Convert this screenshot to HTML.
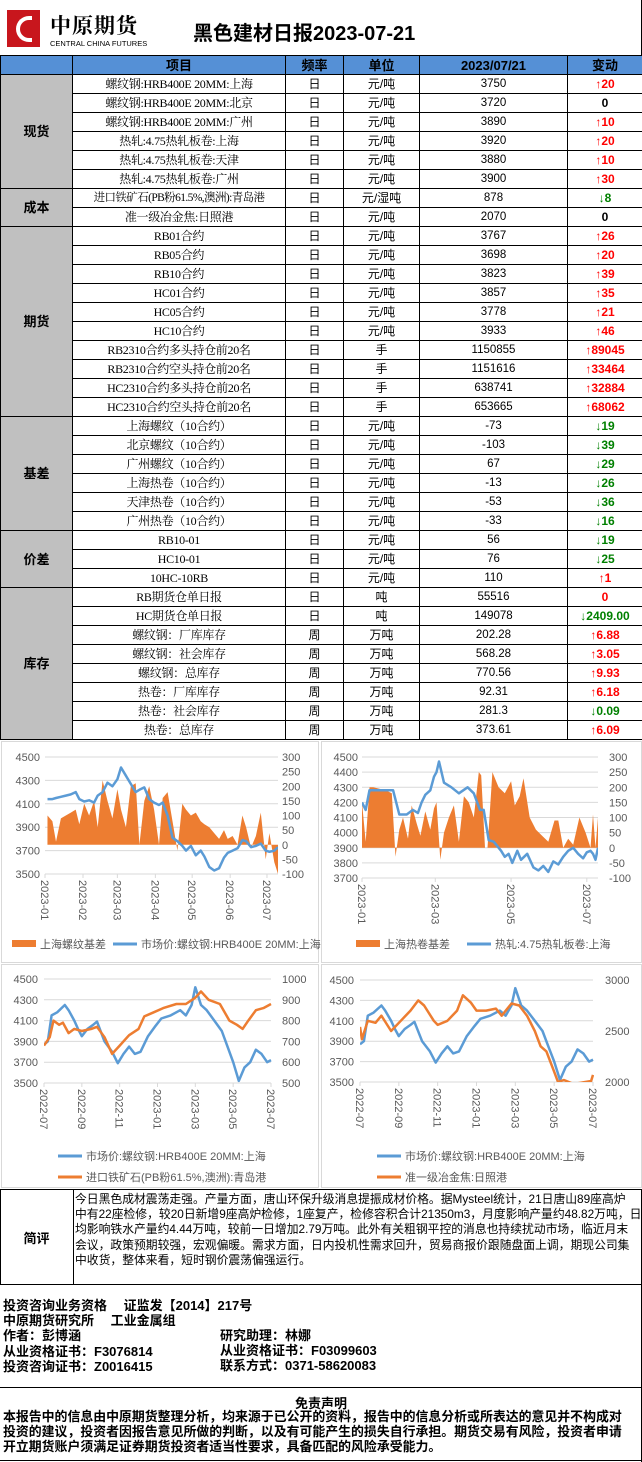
<!DOCTYPE html>
<html><head><meta charset="utf-8">
<style>
*{margin:0;padding:0;box-sizing:border-box}
body{width:642px;height:1462px;background:#fff;position:relative;overflow:hidden;font-family:"Liberation Sans","Noto Sans CJK SC",sans-serif;color:#000}
.abs{position:absolute}
table.t{position:absolute;left:0;top:55px;border-collapse:collapse;table-layout:fixed;width:642px}
.t td{border:1px solid #000;height:19px;padding:0;text-align:center;font-size:12px;line-height:17px;white-space:nowrap;overflow:hidden}
.t .hd td{background:#5590d6;font-weight:bold;font-size:13px}
.t .cat{background:#c0c0c0;font-weight:bold;font-size:13px}
.t .it{font-family:"Liberation Serif","Noto Serif CJK SC",serif;font-size:12px;letter-spacing:-0.3px}
.t .v{font-size:11.5px}
.up{color:#ff0000;font-weight:bold}
.dn{color:#008000;font-weight:bold}
.zr{color:#000;font-weight:bold}
.bold{font-weight:bold}
</style></head><body>
<div class="abs" style="left:7px;top:10px;width:33px;height:37px;background:#c8161d">
  <div class="abs" style="left:9px;top:6px;width:16px;height:26px;border:4px solid #fff;border-right:none;border-radius:16px 0 0 16px"></div>
</div>
<div class="abs bold" style="left:50px;top:10px;font-size:21px;letter-spacing:1px;font-family:'Noto Serif CJK SC',serif">中原期货</div>
<div class="abs" style="left:50px;top:39px;font-size:7.5px">CENTRAL CHINA FUTURES</div>
<div class="abs bold" style="left:193px;top:17px;font-size:20px">黑色建材日报2023-07-21</div>
<div class="abs" style="left:641px;top:0;width:1px;height:55px;background:#000"></div>

<table class="t">
<colgroup><col style="width:72px"><col style="width:213px"><col style="width:58px"><col style="width:76px"><col style="width:148px"><col style="width:75px"></colgroup>
<tr class="hd"><td>&nbsp;</td><td style="border-left:none">项目</td><td>频率</td><td>单位</td><td>2023/07/21</td><td>变动</td></tr>
<tr><td class="cat" rowspan="6">现货</td><td class="it">螺纹钢:HRB400E 20MM:上海</td><td>日</td><td>元/吨</td><td class="v">3750</td><td class="up">↑20</td></tr>
<tr><td class="it">螺纹钢:HRB400E 20MM:北京</td><td>日</td><td>元/吨</td><td class="v">3720</td><td class="zr">0</td></tr>
<tr><td class="it">螺纹钢:HRB400E 20MM:广州</td><td>日</td><td>元/吨</td><td class="v">3890</td><td class="up">↑10</td></tr>
<tr><td class="it">热轧:4.75热轧板卷:上海</td><td>日</td><td>元/吨</td><td class="v">3920</td><td class="up">↑20</td></tr>
<tr><td class="it">热轧:4.75热轧板卷:天津</td><td>日</td><td>元/吨</td><td class="v">3880</td><td class="up">↑10</td></tr>
<tr><td class="it">热轧:4.75热轧板卷:广州</td><td>日</td><td>元/吨</td><td class="v">3900</td><td class="up">↑30</td></tr>
<tr><td class="cat" rowspan="2">成本</td><td class="it" style="font-size:11.5px;letter-spacing:-0.6px">进口铁矿石(PB粉61.5%,澳洲):青岛港</td><td>日</td><td>元/湿吨</td><td class="v">878</td><td class="dn">↓8</td></tr>
<tr><td class="it">准一级冶金焦:日照港</td><td>日</td><td>元/吨</td><td class="v">2070</td><td class="zr">0</td></tr>
<tr><td class="cat" rowspan="10">期货</td><td class="it">RB01合约</td><td>日</td><td>元/吨</td><td class="v">3767</td><td class="up">↑26</td></tr>
<tr><td class="it">RB05合约</td><td>日</td><td>元/吨</td><td class="v">3698</td><td class="up">↑20</td></tr>
<tr><td class="it">RB10合约</td><td>日</td><td>元/吨</td><td class="v">3823</td><td class="up">↑39</td></tr>
<tr><td class="it">HC01合约</td><td>日</td><td>元/吨</td><td class="v">3857</td><td class="up">↑35</td></tr>
<tr><td class="it">HC05合约</td><td>日</td><td>元/吨</td><td class="v">3778</td><td class="up">↑21</td></tr>
<tr><td class="it">HC10合约</td><td>日</td><td>元/吨</td><td class="v">3933</td><td class="up">↑46</td></tr>
<tr><td class="it">RB2310合约多头持仓前20名</td><td>日</td><td>手</td><td class="v">1150855</td><td class="up">↑89045</td></tr>
<tr><td class="it">RB2310合约空头持仓前20名</td><td>日</td><td>手</td><td class="v">1151616</td><td class="up">↑33464</td></tr>
<tr><td class="it">HC2310合约多头持仓前20名</td><td>日</td><td>手</td><td class="v">638741</td><td class="up">↑32884</td></tr>
<tr><td class="it">HC2310合约空头持仓前20名</td><td>日</td><td>手</td><td class="v">653665</td><td class="up">↑68062</td></tr>
<tr><td class="cat" rowspan="6">基差</td><td class="it">上海螺纹（10合约）</td><td>日</td><td>元/吨</td><td class="v">-73</td><td class="dn">↓19</td></tr>
<tr><td class="it">北京螺纹（10合约）</td><td>日</td><td>元/吨</td><td class="v">-103</td><td class="dn">↓39</td></tr>
<tr><td class="it">广州螺纹（10合约）</td><td>日</td><td>元/吨</td><td class="v">67</td><td class="dn">↓29</td></tr>
<tr><td class="it">上海热卷（10合约）</td><td>日</td><td>元/吨</td><td class="v">-13</td><td class="dn">↓26</td></tr>
<tr><td class="it">天津热卷（10合约）</td><td>日</td><td>元/吨</td><td class="v">-53</td><td class="dn">↓36</td></tr>
<tr><td class="it">广州热卷（10合约）</td><td>日</td><td>元/吨</td><td class="v">-33</td><td class="dn">↓16</td></tr>
<tr><td class="cat" rowspan="3">价差</td><td class="it">RB10-01</td><td>日</td><td>元/吨</td><td class="v">56</td><td class="dn">↓19</td></tr>
<tr><td class="it">HC10-01</td><td>日</td><td>元/吨</td><td class="v">76</td><td class="dn">↓25</td></tr>
<tr><td class="it">10HC-10RB</td><td>日</td><td>元/吨</td><td class="v">110</td><td class="up">↑1</td></tr>
<tr><td class="cat" rowspan="8">库存</td><td class="it">RB期货仓单日报</td><td>日</td><td>吨</td><td class="v">55516</td><td class="up">0</td></tr>
<tr><td class="it">HC期货仓单日报</td><td>日</td><td>吨</td><td class="v">149078</td><td class="dn">↓2409.00</td></tr>
<tr><td class="it">螺纹钢：厂库库存</td><td>周</td><td>万吨</td><td class="v">202.28</td><td class="up">↑6.88</td></tr>
<tr><td class="it">螺纹钢：社会库存</td><td>周</td><td>万吨</td><td class="v">568.28</td><td class="up">↑3.05</td></tr>
<tr><td class="it">螺纹钢：总库存</td><td>周</td><td>万吨</td><td class="v">770.56</td><td class="up">↑9.93</td></tr>
<tr><td class="it">热卷：厂库库存</td><td>周</td><td>万吨</td><td class="v">92.31</td><td class="up">↑6.18</td></tr>
<tr><td class="it">热卷：社会库存</td><td>周</td><td>万吨</td><td class="v">281.3</td><td class="dn">↓0.09</td></tr>
<tr><td class="it">热卷：总库存</td><td>周</td><td>万吨</td><td class="v">373.61</td><td class="up">↑6.09</td></tr>
</table>

<svg id="charts" class="abs" style="left:0;top:740px" width="642" height="449" font-family="Liberation Sans, Noto Sans CJK SC, sans-serif"></svg>

<div class="abs" style="left:0;top:1189px;width:642px;height:96px;border:1px solid #000"></div>
<div class="abs" style="left:73px;top:1189px;width:1px;height:96px;background:#000"></div>
<div class="abs bold" style="left:0;top:1228px;width:73px;text-align:center;font-size:13px">简评</div>
<div class="abs" style="left:75px;top:1192px;width:565px;overflow:hidden;font-size:11.8px;line-height:15.2px;white-space:nowrap">
<div>今日黑色成材震荡走强。产量方面，唐山环保升级消息提振成材价格。据Mysteel统计，21日唐山89座高炉</div>
<div>中有22座检修，较20日新增9座高炉检修，1座复产，检修容积合计21350m3，月度影响产量约48.82万吨，日</div>
<div>均影响铁水产量约4.44万吨，较前一日增加2.79万吨。此外有关粗钢平控的消息也持续扰动市场，临近月末</div>
<div>会议，政策预期较强，宏观偏暖。需求方面，日内投机性需求回升，贸易商报价跟随盘面上调，期现公司集</div>
<div>中收货，整体来看，短时钢价震荡偏强运行。</div>
</div>
<div class="abs" style="left:641px;top:1285px;width:1px;height:177px;background:#000"></div>
<div class="abs bold" style="left:3px;top:1298px;font-size:13px;line-height:15.2px;white-space:nowrap">
<div>投资咨询业务资格　 证监发【2014】217号</div>
<div>中原期货研究所　 工业金属组</div>
<div>作者：彭博涵</div>
<div>从业资格证书：F3076814</div>
<div>投资咨询证书：Z0016415</div>
</div>
<div class="abs bold" style="left:220px;top:1328px;font-size:13px;line-height:15.2px;white-space:nowrap">
<div>研究助理：林娜</div>
<div>从业资格证书：F03099603</div>
<div>联系方式：0371-58620083</div>
</div>
<div class="abs" style="left:0;top:1387px;width:642px;height:1px;background:#000"></div>
<div class="abs bold" style="left:0;top:1393px;width:642px;text-align:center;font-size:13px">免责声明</div>
<div class="abs bold" style="left:3px;top:1409px;font-size:12.9px;line-height:15.2px;white-space:nowrap">
<div>本报告中的信息由中原期货整理分析，均来源于已公开的资料，报告中的信息分析或所表达的意见并不构成对</div>
<div>投资的建议，投资者因报告意见所做的判断，以及有可能产生的损失自行承担。期货交易有风险，投资者申请</div>
<div>开立期货账户须满足证券期货投资者适当性要求，具备匹配的风险承受能力。</div>
</div>
<div class="abs" style="left:0;top:1460px;width:642px;height:1px;background:#000"></div>

<script>
// Chart 1: rebar Shanghai price & basis (days since 2023-01-01)
const c1Days=[2,6,9,13,17,21,25,28,32,36,40,43,47,51,55,59,62,66,70,74,77,81,85,89,93,96,100,104,108,112,115,119,123,127,130,134,138,142,146,149,153,157,161,164,168,172,176,180,183,187,190];
const c1Price=[4140,4140,4150,4160,4170,4180,4200,4140,4120,4130,4110,4170,4200,4280,4250,4310,4410,4340,4270,4200,4220,4240,4140,4110,4090,4110,4000,3810,3780,3740,3700,3740,3660,3700,3650,3560,3530,3550,3640,3680,3700,3720,3790,3780,3730,3740,3760,3700,3690,3700,3730];
const c1Basis=[100,80,10,90,100,110,120,70,140,100,150,60,220,150,90,190,120,60,200,210,0,150,200,120,0,160,180,80,-20,140,120,100,110,80,70,60,40,20,50,20,30,0,100,60,-10,30,110,-50,40,-60,-100];
const c1LeftTicks=[3500,3700,3900,4100,4300,4500];
const c1RightTicks=[-100,-50,0,50,100,150,200,250,300];
const c1XTickDays=[0,31,59,90,120,151,181];
const c1XTickLabels=["2023-01","2023-02","2023-03","2023-04","2023-05","2023-06","2023-07"];
// Chart 2: hot coil Shanghai
const c2PriceDays=[0,3,6,9,25,30,36,41,45,48,51,55,58,60,62,66,72,78,85,90,95,98,102,106,112,115,118,121,125,128,133,138,142,146,150,154,158,162,166,170,174,178,181,184,186,188,190];
const c2Price=[4200,4150,4280,4280,4280,4120,4120,4150,4130,4200,4250,4280,4370,4400,4470,4330,4300,4260,4300,4260,4150,4150,3950,3940,3880,3840,3860,3800,3880,3820,3860,3770,3750,3780,3740,3810,3790,3840,3880,3900,3860,3830,3870,3880,3860,3820,3900];
const c2BasisDays=[0,3,6,9,14,19,24,27,30,33,37,40,44,47,51,55,58,60,63,66,70,74,78,82,86,90,94,96,99,101,105,110,115,120,123,127,130,135,140,145,150,155,158,162,166,170,175,180,184,186,188,190];
const c2Basis=[150,20,200,200,195,190,180,-30,60,100,30,140,80,40,120,60,130,150,-40,50,100,140,20,170,150,100,250,240,0,0,250,200,180,220,140,170,230,100,60,40,20,90,90,0,30,10,100,50,0,110,0,100];
const c2LeftTicks=[3700,3800,3900,4000,4100,4200,4300,4400,4500];
const c2RightTicks=[-100,-50,0,50,100,150,200,250,300];
const c2XTickDays=[0,59,120,181];
const c2XTickLabels=["2023-01","2023-03","2023-05","2023-07"];
// Chart 3 & 4 (months since 2022-07)
const c3RebarMonths=[0,0.2,0.4,0.7,1.1,1.3,1.6,1.8,2.0,2.3,2.6,2.8,3.2,3.6,3.9,4.2,4.5,4.8,5.1,5.5,5.9,6.2,6.7,7.2,7.5,7.8,8.0,8.3,8.6,9.0,9.4,9.7,10.0,10.3,10.6,10.9,11.2,11.5,11.8,12.0];
const c3Rebar=[3870,3900,4150,4180,4250,4200,4100,4020,3950,4020,4060,4090,3900,3800,3690,3780,3850,3780,3800,3950,4050,4120,4150,4200,4150,4250,4420,4250,4200,4100,4000,3850,3700,3520,3650,3700,3820,3780,3700,3720];
const c3OreMonths=[0,0.3,0.5,0.8,1.0,1.3,1.6,2.0,2.5,2.8,3.2,3.6,4.0,4.5,5.0,5.3,5.8,6.3,7.0,7.5,8.0,8.3,8.7,9.3,9.8,10.2,10.5,10.8,11.2,11.6,12];
const c3Ore=[680,720,800,780,790,740,760,750,760,770,720,640,680,730,760,820,840,860,880,880,910,940,900,880,800,780,760,800,850,860,880];
const c4CokeMonths=[0,0.1,0.4,0.8,1.1,1.6,2.2,2.6,3.0,3.3,3.8,4.0,4.5,5.0,5.3,5.7,6.0,6.5,7.0,7.3,7.8,8.2,8.6,9.0,9.3,9.6,10.0,10.2,10.5,11.0,11.9,12];
const c4Coke=[2540,2420,2600,2580,2650,2500,2620,2700,2800,2750,2600,2560,2600,2700,2850,2780,2700,2700,2720,2650,2770,2750,2650,2500,2350,2300,2100,2000,2020,1980,2010,2070];
const c3LeftTicks=[3500,3700,3900,4100,4300,4500];
const c3OreTicks=[500,600,700,800,900,1000];
const c4CokeTicks=[2000,2500,3000];
const c3XTickMonths=[0,2,4,6,8,10,12];
const c3XTickLabels=["2022-07","2022-09","2022-11","2023-01","2023-03","2023-05","2023-07"];

const NS="http://www.w3.org/2000/svg";
const root=document.getElementById('charts');
function mk(tag,attrs,parent){const e=document.createElementNS(NS,tag);for(const k in attrs)e.setAttribute(k,attrs[k]);(parent||root).appendChild(e);return e;}
function lin(d0,d1,r0,r1){return v=>r0+(v-d0)/(d1-d0)*(r1-r0);}
const BLUE="#5b9bd5",ORANGE="#ed7d31",GRID="#d9d9d9",TXT="#595959";

[[1,1,317,221],[321,1,320,221],[1,224,317,223],[321,224,320,223]].forEach((r,i)=>{
  const p=mk('rect',{x:r[0]+0.5,y:r[1]+0.5,width:r[2],height:r[3],fill:'none',stroke:GRID});
  
  
});

function axes(g,x0,x1,yL,ticksL,yR,ticksR,lx,rx,xs,xt,xl,yBase){
  ticksL.forEach(t=>{
    const l=mk('line',{x1:x0,x2:x1,y1:yL(t),y2:yL(t),stroke:GRID},g);
    
    
    const tx=mk('text',{x:lx,y:yL(t)+4,'text-anchor':'end','font-size':11,fill:TXT},g);tx.textContent=t;
    
    
  });
  ticksR.forEach(t=>{
    const tx=mk('text',{x:rx,y:yR(t)+4,'font-size':11,fill:TXT},g);tx.textContent=t;
    
    
  });
  const ax=mk('line',{x1:x0,x2:x1,y1:yBase,y2:yBase,stroke:GRID},g);
  
  
  xt.forEach((d,i)=>{
    const X=xs(d);
    mk('line',{x1:X,x2:X,y1:yBase,y2:yBase+4,stroke:GRID},g);
    const tx=mk('text',{x:0,y:0,'font-size':11,fill:TXT,transform:`translate(${X-4},${yBase+6}) rotate(90)`},g);
    tx.textContent=xl[i];
    
    
  });
}
function linePath(xs,ys,X,Y){return X.map((v,i)=>(i?'L':'M')+xs(v).toFixed(1)+','+ys(Y[i]).toFixed(1)).join('');}
function clip(id,x,y,w,h){const c=mk('clipPath',{id:id});mk('rect',{x:x,y:y,width:w,height:h},c);}
function legendItem(g,x,y,color,label,isBar){
  if(isBar){mk('rect',{x:x,y:y-4,width:24,height:7,fill:color},g);}
  else{mk('line',{x1:x,x2:x+24,y1:y,y2:y,stroke:color,'stroke-width':3},g);}
  const t=mk('text',{x:x+28,y:y+4,'font-size':11,fill:TXT},g);t.textContent=label;
  
  
}

(function(){
  const g=mk('g',{});
  
  
  const xs=lin(0,190,45,278), yL=lin(3500,4500,134,17), yR=lin(-100,300,134,17);
  axes(g,45,278,yL,c1LeftTicks,yR,c1RightTicks,40,282,xs,c1XTickDays,c1XTickLabels,134);
  clip('cp1',45,10,233,124);
  const z=yR(0);
  let d='M'+xs(c1Days[0])+','+z+c1Days.map((v,i)=>'L'+xs(v).toFixed(1)+','+yR(c1Basis[i]).toFixed(1)).join('')+'L'+xs(c1Days[c1Days.length-1])+','+z+'Z';
  const a=mk('path',{d:d,fill:ORANGE,'clip-path':'url(#cp1)'},g);
  
  
  const l=mk('path',{d:linePath(xs,yL,c1Days,c1Price),fill:'none',stroke:BLUE,'stroke-width':2.5,'stroke-linejoin':'round','clip-path':'url(#cp1)'},g);
  
  
  legendItem(g,12,204,ORANGE,'上海螺纹基差',true);
  legendItem(g,113,204,BLUE,'市场价:螺纹钢:HRB400E 20MM:上海',false);
})();

(function(){
  const g=mk('g',{});
  
  
  const xs=lin(0,190,362,598), yL=lin(3700,4500,138,17), yR=lin(-100,300,138,17);
  axes(g,362,598,yL,c2LeftTicks,yR,c2RightTicks,358,609,xs,c2XTickDays,c2XTickLabels,138);
  clip('cp2',362,10,236,128);
  const z=yR(0);
  let d='M'+xs(c2BasisDays[0])+','+z+c2BasisDays.map((v,i)=>'L'+xs(v).toFixed(1)+','+yR(c2Basis[i]).toFixed(1)).join('')+'L'+xs(c2BasisDays[c2BasisDays.length-1])+','+z+'Z';
  const a=mk('path',{d:d,fill:ORANGE,'clip-path':'url(#cp2)'},g);
  
  
  const l=mk('path',{d:linePath(xs,yL,c2PriceDays,c2Price),fill:'none',stroke:BLUE,'stroke-width':2.5,'stroke-linejoin':'round','clip-path':'url(#cp2)'},g);
  
  
  legendItem(g,356,204,ORANGE,'上海热卷基差',true);
  legendItem(g,467,204,BLUE,'热轧:4.75热轧板卷:上海',false);
})();

(function(){
  const g=mk('g',{});
  
  
  const xs=lin(0,12,44,271), yL=lin(3500,4500,343,239), yR=lin(500,1000,343,239);
  axes(g,44,271,yL,c3LeftTicks,yR,c3OreTicks,38,282,xs,c3XTickMonths,c3XTickLabels,343);
  clip('cp3',44,232,228,111);
  const l=mk('path',{d:linePath(xs,yL,c3RebarMonths,c3Rebar),fill:'none',stroke:BLUE,'stroke-width':2.5,'stroke-linejoin':'round','clip-path':'url(#cp3)'},g);
  
  
  const o=mk('path',{d:linePath(xs,yR,c3OreMonths,c3Ore),fill:'none',stroke:ORANGE,'stroke-width':2.5,'stroke-linejoin':'round','clip-path':'url(#cp3)'},g);
  
  
  legendItem(g,58,416,BLUE,'市场价:螺纹钢:HRB400E 20MM:上海',false);
  legendItem(g,58,437,ORANGE,'进口铁矿石(PB粉61.5%,澳洲):青岛港',false);
})();

(function(){
  const g=mk('g',{});
  
  
  const xs=lin(0,12,360,593), yL=lin(3500,4500,342,240), yR=lin(2000,3000,342,240);
  axes(g,360,593,yL,c3LeftTicks,yR,c4CokeTicks,354,605,xs,c3XTickMonths,c3XTickLabels,342);
  clip('cp4',360,232,234,110);
  const l=mk('path',{d:linePath(xs,yL,c3RebarMonths,c3Rebar),fill:'none',stroke:BLUE,'stroke-width':2.5,'stroke-linejoin':'round','clip-path':'url(#cp4)'},g);
  
  
  const o=mk('path',{d:linePath(xs,yR,c4CokeMonths,c4Coke),fill:'none',stroke:ORANGE,'stroke-width':2.5,'stroke-linejoin':'round','clip-path':'url(#cp4)'},g);
  
  
  legendItem(g,377,416,BLUE,'市场价:螺纹钢:HRB400E 20MM:上海',false);
  legendItem(g,377,437,ORANGE,'准一级冶金焦:日照港',false);
})();
</script>
</body></html>
